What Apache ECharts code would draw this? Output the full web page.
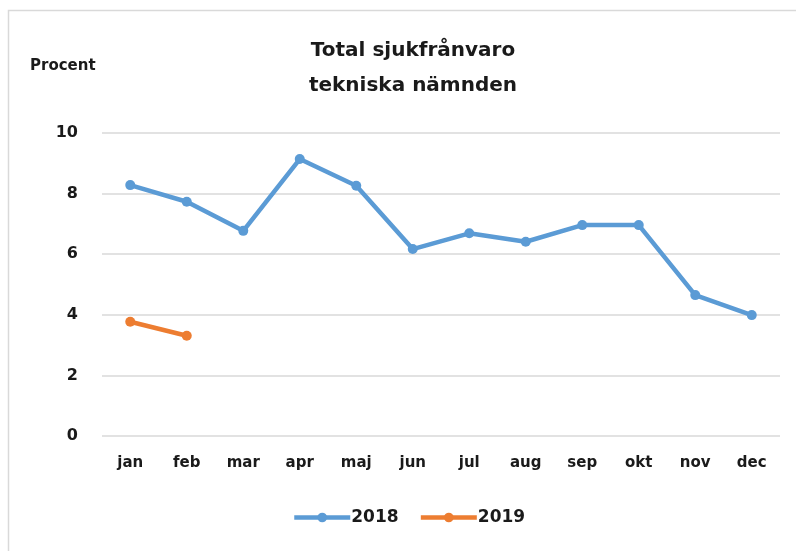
<!DOCTYPE html>
<html>
<head>
<meta charset="utf-8">
<script src="https://cdn.jsdelivr.net/npm/echarts@6/dist/echarts.min.js"></script>
<style>
  html, body { margin: 0; padding: 0; background: #fff; }
  #chart { width: 796px; height: 551px; }
</style>
</head>
<body>
<div id="chart"></div>
<script>
const months = ['jan', 'feb', 'mar', 'apr', 'maj', 'jun', 'jul', 'aug', 'sep', 'okt', 'nov', 'dec']
const y2018 = [8.28, 7.73, 6.77, 9.14, 8.26, 6.17, 6.69, 6.41, 6.96, 6.96, 4.65, 3.99]
const y2019 = [3.77, 3.31, null, null, null, null, null, null, null, null, null, null]
const yTicks = { min: 0, max: 10, interval: 2 }

const fontFamily = '"DejaVu Sans", sans-serif'
const textColor = '#1a1a1a'

const chart = echarts.init(document.getElementById('chart'))

function lineSeries(name, data, color) {
  return {
    name: name,
    type: 'line',
    data: data,
    symbol: 'circle',
    symbolSize: 10,
    connectNulls: false,
    color: color,
    lineStyle: { width: 4.5, color: color },
    itemStyle: { color: color }
  }
}

const option = {
  animation: false,
  backgroundColor: '#fff',
  title: {
    text: 'Total sjukfrånvaro\ntekniska nämnden',
    left: 408,
    textAlign: 'center',
    top: 28,
    textStyle: {
      fontFamily: fontFamily,
      fontWeight: 'bold',
      fontSize: 20,
      lineHeight: 35,
      color: textColor
    }
  },
  graphic: [
    {
      type: 'rect',
      shape: { x: 8.5, y: 10.5, width: 800, height: 560 },
      style: { fill: 'none', stroke: '#d9d9d9', lineWidth: 1.5 },
      silent: true
    },
    {
      type: 'text',
      left: 30,
      top: 59,
      style: {
        text: 'Procent',
        fontFamily: fontFamily,
        fontWeight: 'bold',
        fontSize: 15,
        fill: textColor
      }
    }
  ],
  legend: {
    bottom: 20,
    left: 287,
    itemWidth: 56,
    itemHeight: 12,
    itemGap: 20,
    lineStyle: { width: 4.5 },
    textStyle: {
      fontFamily: fontFamily,
      fontWeight: 'bold',
      fontSize: 17,
      color: textColor,
      padding: [0, 0, 0, -4]
    },
    data: ['2018', '2019']
  },
  grid: {
    left: 102,
    right: 16,
    top: 133,
    bottom: 115
  },
  xAxis: {
    type: 'category',
    data: months,
    boundaryGap: true,
    axisLine: { show: false },
    axisTick: { show: false },
    axisLabel: {
      margin: 20,
      fontFamily: fontFamily,
      fontWeight: 'bold',
      fontSize: 15,
      color: textColor
    }
  },
  yAxis: {
    type: 'value',
    min: yTicks.min,
    max: yTicks.max,
    interval: yTicks.interval,
    axisLine: { show: false },
    axisTick: { show: false },
    splitLine: { lineStyle: { color: '#d9d9d9', width: 1.5 } },
    axisLabel: {
      margin: 24,
      fontFamily: fontFamily,
      fontWeight: 'bold',
      fontSize: 16,
      color: textColor
    }
  },
  series: [
    lineSeries('2018', y2018, '#5b9bd5'),
    lineSeries('2019', y2019, '#ed7d31')
  ]
}

chart.setOption(option)
</script>
</body>
</html>
